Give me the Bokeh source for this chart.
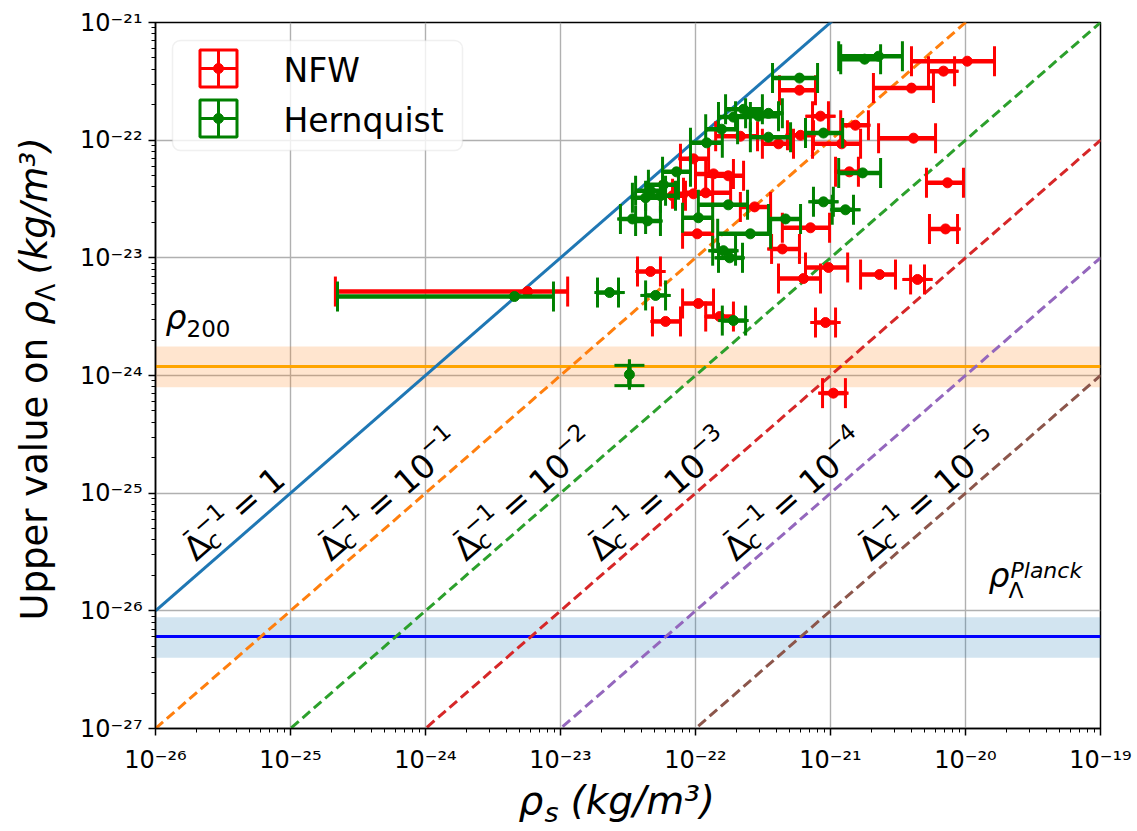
import math
from bokeh.plotting import figure
from bokeh.models import ColumnDataSource, FixedTicker, CustomJSTickFormatter, BoxAnnotation
from bokeh.embed import file_html
from bokeh.resources import INLINE
from bokeh.core.properties import value

# ---------------- data ----------------
# NFW fits: rho_s (kg/m^3) with lower/upper bounds, and upper value on rho_Lambda
nfw_rho_s = [1.03e-20, 6.87e-21, 3.98e-21, 8.43e-22, 1.53e-21, 4.12e-21, 1.21e-21, 6.0e-22,
             4.12e-22, 2.15e-22, 5.89e-22, 9.66e-23, 1.36e-22, 1.75e-22, 6.76e-23, 9.66e-23,
             1.19e-22, 2.74e-22, 1.03e-22, 7.11e-22, 4.4e-22, 4.64e-23, 9.66e-22, 2.31e-21,
             4.41e-21, 6.31e-22, 1.38e-21, 7.36e-21, 7.11e-21, 1.05e-22, 1.51e-22, 6.0e-23,
             9.18e-22, 1.05e-21, 5.7e-24]
nfw_rho_s_lo = [3.98e-21, 5.32e-21, 2.08e-21, 7.36e-22, 1.19e-21, 2.27e-21, 7.36e-22, 4.8e-22,
                3.13e-22, 1.41e-22, 4.19e-22, 7.74e-23, 1.0e-22, 1.19e-22, 5.5e-23, 6.76e-23,
                8.15e-23, 2.15e-22, 8.02e-23, 4.4e-22, 3.66e-22, 3.72e-23, 6.53e-22, 1.67e-21,
                3.92e-21, 4.12e-22, 1.09e-21, 5.14e-21, 5.41e-21, 8.02e-23, 1.19e-22, 4.8e-23,
                7.74e-22, 8.73e-22, 2.15e-25]
nfw_rho_s_hi = [1.64e-20, 8.3e-21, 5.79e-21, 9.66e-22, 1.91e-21, 6.0e-21, 1.67e-21, 7.48e-22,
                5.32e-22, 2.88e-22, 7.74e-22, 1.25e-22, 1.91e-22, 2.27e-22, 8.43e-23, 1.34e-22,
                1.82e-22, 3.6e-22, 1.34e-22, 9.84e-22, 5.89e-22, 5.5e-23, 1.34e-21, 3.03e-21,
                4.97e-21, 8.43e-22, 1.61e-21, 9.66e-21, 8.73e-21, 1.36e-22, 1.91e-22, 7.74e-23,
                1.09e-21, 1.29e-21, 1.13e-23]
nfw_rho_L = [4.69e-22, 3.86e-22, 2.77e-22, 1.6e-22, 1.34e-22, 1.04e-22, 9.31e-23, 1.1e-22,
             9.31e-23, 1.08e-22, 2.66e-22, 6.94e-23, 5.17e-23, 4.98e-23, 3.37e-23, 3.5e-23,
             3.57e-23, 2.71e-23, 1.6e-23, 1.8e-23, 1.19e-23, 7.65e-24, 8.28e-24, 7.21e-24,
             6.55e-24, 6.67e-24, 5.38e-23, 4.34e-23, 1.76e-23, 4.09e-24, 3.17e-24, 2.88e-24,
             2.82e-24, 7.08e-25, 5.17e-24]
nfw_rho_L_err = [0.0] * 35

# Hernquist fits
hq_rho_s = [1.79e-21, 2.27e-21, 5.89e-22, 8.87e-22, 3.47e-22, 2.27e-22, 3.47e-22, 2.93e-22,
            1.91e-22, 1.56e-22, 1.21e-22, 7.23e-23, 5.79e-23, 4.64e-23, 5.5e-23, 4.27e-23,
            1.75e-22, 1.05e-22, 3.41e-23, 4.41e-23, 4.64e-22, 2.55e-22, 1.61e-22, 1.79e-22,
            8.87e-22, 1.29e-21, 1.73e-21, 2.31e-23, 5.06e-23, 1.91e-22, 3.24e-23, 4.56e-24]
hq_rho_s_lo = [1.19e-21, 1.15e-21, 3.72e-22, 6.53e-22, 2.55e-22, 1.67e-22, 2.35e-22, 1.98e-22,
               1.48e-22, 1.19e-22, 9.18e-23, 5.7e-23, 4.48e-23, 3.6e-23, 4.27e-23, 3.41e-23,
               1.05e-22, 8.02e-23, 2.78e-23, 3.6e-23, 3.47e-22, 1.46e-22, 1.34e-22, 1.48e-22,
               7.48e-22, 1.03e-21, 1.15e-21, 1.88e-23, 4.27e-23, 1.58e-22, 3.24e-23, 2.23e-25]
hq_rho_s_hi = [2.35e-21, 3.41e-21, 8.02e-22, 1.23e-21, 5.06e-22, 3.13e-22, 4.4e-22, 4.12e-22,
               2.55e-22, 2.05e-22, 1.58e-22, 9.18e-23, 7.48e-23, 6.0e-23, 7.11e-23, 5.5e-23,
               2.43e-22, 1.34e-22, 4.27e-23, 5.5e-23, 6.0e-22, 3.6e-22, 1.98e-22, 2.23e-22,
               1.05e-21, 1.48e-21, 2.35e-21, 2.69e-23, 6.0e-23, 2.35e-22, 3.24e-23, 8.87e-24]
hq_rho_L = [4.88e-22, 5.17e-22, 3.37e-22, 1.15e-22, 1.06e-22, 1.83e-22, 1.69e-22, 1.6e-22,
            1.57e-22, 1.24e-22, 9.49e-23, 5.38e-23, 4.17e-23, 3.71e-23, 3.37e-23, 3.24e-23,
            2.82e-23, 2.19e-23, 2.14e-23, 2.06e-23, 2.14e-23, 1.6e-23, 1.15e-23, 1.0e-23,
            2.99e-23, 2.56e-23, 5.27e-23, 5.07e-24, 4.79e-24, 2.93e-24, 1.02e-24, 4.69e-24]
hq_rho_L_err = [0.0] * 30 + [2.0e-25, 0.0]

# reference densities
rho200 = 1.19e-24
rho200_lo = 7.95e-25
rho200_hi = 1.76e-24
rho_planck = 6.05e-27
rho_planck_lo = 4.0e-27
rho_planck_hi = 8.8e-27

# iso-lines rho_Lambda = Delta_c^-1 * rho_s
delta_inv = [1.0, 1e-1, 1e-2, 1e-3, 1e-4, 1e-5]
delta_colors = ["#1f77b4", "#ff7f0e", "#2ca02c", "#d62728", "#9467bd", "#8c564b"]

X_MIN, X_MAX = 1e-26, 1e-19
Y_MIN, Y_MAX = 1e-27, 1e-21

FONT = "DejaVu Sans"

# ---------------- figure ----------------
p = figure(width=1135, height=828, x_axis_type="log", y_axis_type="log",
           x_range=(X_MIN, X_MAX), y_range=(Y_MIN, Y_MAX),
           output_backend="svg", toolbar_location=None,
           min_border_left=155, min_border_right=35, min_border_top=22, min_border_bottom=100)
p.background_fill_color = "white"
p.border_fill_color = "white"
p.outline_line_color = "black"
p.outline_line_width = 1.5

# pixel -> data helpers for annotation placement (frame: x 155..1100, y 22..728)
FR_L, FR_T, FR_W, FR_H = 155.0, 22.0, 945.0, 706.0
XDEC = FR_W / 7.0
YDEC = FR_H / 6.0


def fx(px):
    return 10 ** (math.log10(X_MIN) + (px - FR_L) / XDEC)


def fy(py):
    return 10 ** (math.log10(Y_MAX) - (py - FR_T) / YDEC)


# ticks
ticker = FixedTicker(ticks=[10.0 ** k for k in range(-27, -18)],
                     minor_ticks=[m * 10.0 ** k for k in range(-27, -19) for m in range(2, 10)])
fmt = CustomJSTickFormatter(code="""
const e = Math.round(Math.log10(tick));
const m = {"-": "\u207b", "0": "\u2070", "1": "\u00b9", "2": "\u00b2", "3": "\u00b3",
           "4": "\u2074", "5": "\u2075", "6": "\u2076", "7": "\u2077", "8": "\u2078", "9": "\u2079"};
return "10" + String(e).split("").map(c => m[c]).join("");
""")
for ax in (p.xaxis[0], p.yaxis[0]):
    ax.ticker = ticker
    ax.formatter = fmt
    ax.major_label_text_font = FONT
    ax.major_label_text_font_size = "24px"
    ax.major_label_text_color = "black"
    ax.axis_line_color = "black"
    ax.axis_line_width = 1.5
    ax.major_tick_line_color = "black"
    ax.major_tick_line_width = 1.5
    ax.major_tick_out = 7
    ax.major_tick_in = 0
    ax.minor_tick_line_color = "black"
    ax.minor_tick_line_width = 1.0
    ax.minor_tick_out = 4
    ax.minor_tick_in = 0
p.xaxis.major_label_standoff = 10
p.yaxis.major_label_standoff = 6

p.grid.grid_line_color = "#b0b0b0"
p.grid.grid_line_width = 1.4

# bands and reference lines
p.varea(x=[X_MIN, X_MAX], y1=[rho200_lo] * 2, y2=[rho200_hi] * 2, fill_color="#ff7f0e", fill_alpha=0.2)
p.varea(x=[X_MIN, X_MAX], y1=[rho_planck_lo] * 2, y2=[rho_planck_hi] * 2, fill_color="#1f77b4", fill_alpha=0.2)
p.line(x=[X_MIN, X_MAX], y=[rho200] * 2, line_color="orange", line_width=3)
p.line(x=[X_MIN, X_MAX], y=[rho_planck] * 2, line_color="blue", line_width=3)

for k, c in zip(delta_inv, delta_colors):
    p.line(x=[X_MIN, X_MAX], y=[k * X_MIN, k * X_MAX], line_color=c, line_width=3,
           line_dash="solid" if k == 1.0 else "10 5")


def errorbars(xs, xlo, xhi, ys, yerr, color):
    src = ColumnDataSource(dict(x=xs, xlo=xlo, xhi=xhi, y=ys,
                                ylo=[y - e for y, e in zip(ys, yerr)],
                                yhi=[y + e for y, e in zip(ys, yerr)]))
    p.segment(x0="xlo", y0="y", x1="xhi", y1="y", source=src, line_color=color, line_width=4.5)
    p.segment(x0="x", y0="ylo", x1="x", y1="yhi", source=src, line_color=color, line_width=4.5)
    for cx, cy, ang in (("xlo", "y", math.pi / 2), ("xhi", "y", math.pi / 2),
                        ("x", "ylo", 0.0), ("x", "yhi", 0.0)):
        p.scatter(x=cx, y=cy, source=src, marker="dash", angle=ang, size=30,
                  line_color=color, line_width=3)
    p.scatter(x="x", y="y", source=src, marker="circle", size=10,
              fill_color=color, line_color=color)


errorbars(nfw_rho_s, nfw_rho_s_lo, nfw_rho_s_hi, nfw_rho_L, nfw_rho_L_err, "red")
errorbars(hq_rho_s, hq_rho_s_lo, hq_rho_s_hi, hq_rho_L, hq_rho_L_err, "green")

# ---------------- text pieces ----------------
theta = math.atan2(YDEC, XDEC)


def place(bx, by, u, v):
    sx = bx + u * math.cos(theta) - v * math.sin(theta)
    sy = by - u * math.sin(theta) - v * math.cos(theta)
    return sx, sy


def txt(s, px, py, size, style="normal", angle=0.0, level="glyph", shift=0.3):
    # px, py: intended baseline start in canvas pixels; shift compensates the renderer's baseline offset
    fs = float(size[:-2])
    px -= shift * fs * math.sin(angle)
    py -= shift * fs * math.cos(angle)
    p.text(x=[fx(px)], y=[fy(py)], text=[s], angle=angle, text_font=value(FONT), text_font_size=size,
           text_font_style=style, text_align="left", text_baseline="alphabetic",
           text_color="black", level=level)


# Delta_c^-1 labels along the iso-lines
for i, k in enumerate(delta_inv):
    bx, by = 188 + XDEC * i, 553
    e = int(round(math.log10(k)))
    txt("\u0394", *place(bx, by, 0, 0), "33px", angle=theta, shift=0)
    txt("\u00af", *place(bx, by, 5, 8), "26px", angle=theta, shift=0)
    txt("c", *place(bx, by, 21, -7), "23px", "italic", angle=theta, shift=0)
    txt("\u22121", *place(bx, by, 21, 14), "23px", angle=theta, shift=0)
    if e == 0:
        txt("= 1", *place(bx, by, 62, 0), "33px", angle=theta, shift=0)
    else:
        txt("= 10", *place(bx, by, 62, 0), "33px", angle=theta, shift=0)
        txt("\u2212%d" % (-e), *place(bx, by, 142, 14), "23px", angle=theta, shift=0)

# rho_200 and rho_Lambda^Planck
txt("\u03c1", 165, 327, "33px", "italic")
txt("200", 186, 335, "23px")
txt("\u03c1", 988, 585, "33px", "italic")
txt("Planck", 1010, 577, "22px", "italic")
txt("\u039b", 1008, 597, "22px")

# axis labels (drawn outside the frame at overlay level)
OV = "overlay"
txt("\u03c1", 518, 812, "39px", "italic", level=OV)
txt("s", 544, 820, "27px", "italic", level=OV)
txt("(kg/m\u00b3)", 570, 812, "39px", "italic", level=OV)

txt("Upper value on", 45, 620, "37px", "normal", math.pi / 2, level=OV)
txt("\u03c1", 45, 324, "37px", "italic", math.pi / 2, level=OV)
txt("\u039b", 53, 301, "26px", "normal", math.pi / 2, level=OV)
txt("(kg/m\u00b3)", 45, 274, "37px", "italic", math.pi / 2, level=OV)

# ---------------- legend (drawn by hand) ----------------
p.add_layout(BoxAnnotation(left=fx(172), right=fx(462), top=fy(40), bottom=fy(150),
                           fill_color="white", fill_alpha=0.8, line_color="#cccccc",
                           line_width=1.5, border_radius=8))
for col, py, name in (("red", 68, "NFW"), ("green", 118, "Hernquist")):
    p.scatter(x=[fx(218)], y=[fy(py)], marker="square_cross", size=37, fill_color=None,
              line_color=col, line_width=3, level=OV)
    p.scatter(x=[fx(218)], y=[fy(py)], marker="circle", size=10, fill_color=col,
              line_color=col, level=OV)
    txt(name, 283, py + 12, "33px", level=OV)

open("out.html", "w").write(file_html(p, INLINE))
